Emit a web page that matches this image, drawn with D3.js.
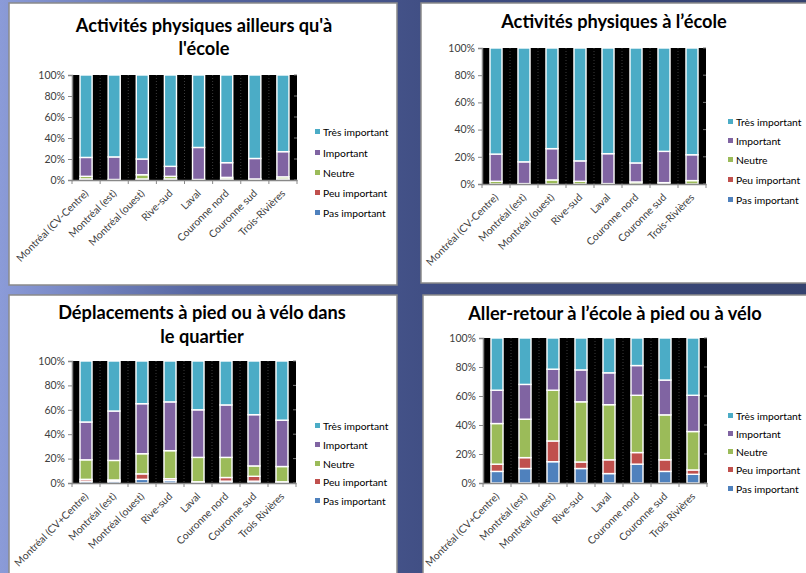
<!DOCTYPE html>
<html><head><meta charset="utf-8">
<script src="https://cdn.jsdelivr.net/npm/d3@7"></script>
<style>
html,body{margin:0;padding:0;background:#3d4a7c;}
svg{display:block;}
</style></head>
<body>
<svg id="c" width="806" height="573"></svg>
<script>
// ---------- DATA ----------
const seriesNames = ["Pas important","Peu important","Neutre","Important","Très important"];
const legendOrder = ["Très important","Important","Neutre","Peu important","Pas important"];
const seriesColors = ["#4F81BD","#C0504D","#9BBB59","#8064A2","#4BACC6"];
const yTickValues = [0, 0.2, 0.4, 0.6, 0.8, 1];

const categoriesTop = ["Montréal (CV-Centre)","Montréal (est)","Montréal (ouest)","Rive-sud","Laval","Couronne nord","Couronne sud","Trois-Rivières"];
const categoriesBottom = ["Montréal (CV+Centre)","Montréal (est)","Montréal (ouest)","Rive-sud","Laval","Couronne nord","Couronne sud","Trois Rivières"];

// Activités physiques ailleurs qu'à l'école
const ailleursPas    = [0.5, 0,   0.5, 0.5, 0,   0.5, 0,   0.5];
const ailleursPeu    = [0.5, 0,   0.5, 0.5, 0,   0.5, 0.5, 0.5];
const ailleursNeutre = [2.5, 0.5, 4,   2.5, 0.5, 1.5, 0.5, 2];
const ailleursImp    = [18,  21.5,15,  9.5, 30.5,14,  19.5,24];
const ailleursTres   = [78.5,78,  80,  87,  69,  83.5,79.5,73];

// Activités physiques à l'école
const ecolePas    = [0,   0,   0,   0,   0,   0,   0,   0];
const ecolePeu    = [0,   0,   0,   0,   0,   0,   0,   0];
const ecoleNeutre = [2,   0.3, 3,   2,   0.3, 1.5, 1,   2.5];
const ecoleImp    = [20,  16,  23,  15,  22,  14,  23,  19];
const ecoleTres   = [78,  83.7,74,  83,  77.7,84.5,76,  78.5];

// Déplacements à pied ou à vélo dans le quartier
const deplPas    = [1.5, 1.5, 3,   2,   0.5, 1.5, 1.5, 0.5];
const deplPeu    = [1.5, 1,   4.5, 1.5, 0.5, 3,   4,   0.5];
const deplNeutre = [16,  16,  16.5,23,  20,  16.5,8.5, 12.5];
const deplImp    = [31,  40.5,41,  40,  39,  43,  42,  38];
const deplTres   = [50,  41,  35,  33.5,40,  36,  44,  48.5];

// Aller-retour à l'école à pied ou à vélo
const allerPas    = [8,   10,  14.7,10,  6.5, 13,  8,   6];
const allerPeu    = [5,   7.5, 14.3,4.5, 9.5, 8,   8,   3];
const allerNeutre = [28,  26.5,35,  41.5,38,  39.5,31,  26.5];
const allerImp    = [23,  24,  14.5,22,  22,  20.5,24,  25];
const allerTres   = [36,  32,  21.5,22,  24,  19,  29,  39.5];

// ---------- LAYOUT ----------
const panels = [
  {title:["Activités physiques ailleurs qu'à","l'école"], titleX:204, titleY:[32,55],
   rect:[9,3,388,282], plot:[72,75,297,180], legX:315, legY:[132,153,173,193,213],
   cats:categoriesTop, series:[ailleursPas,ailleursPeu,ailleursNeutre,ailleursImp,ailleursTres]},
  {title:["Activités physiques à l’école"], titleX:614, titleY:[28],
   rect:[421,3,390,280], plot:[482,48,706,184], legX:728, legY:[122,141,160,180,200],
   cats:categoriesTop, series:[ecolePas,ecolePeu,ecoleNeutre,ecoleImp,ecoleTres]},
  {title:["Déplacements à pied ou à vélo dans","le quartier"], titleX:202, titleY:[319,343],
   rect:[9,295,388,290], plot:[72,361,296,483], legX:315, legY:[426,445,464,482,501],
   cats:categoriesBottom, series:[deplPas,deplPeu,deplNeutre,deplImp,deplTres]},
  {title:["Aller-retour à l’école à pied ou à vélo"], titleX:615, titleY:[320],
   rect:[423,295,390,290], plot:[483,338,707,483], legX:728, legY:[416,434,452,470,489],
   cats:categoriesBottom, series:[allerPas,allerPeu,allerNeutre,allerImp,allerTres]}
];

const svg = d3.select("#c");
const defs = svg.append("defs");
const g = defs.append("linearGradient").attr("id","bg").attr("x1","0").attr("y1","0").attr("x2","1").attr("y2","0");
g.append("stop").attr("offset","0").attr("stop-color","#8b9bd8");
g.append("stop").attr("offset","0.25").attr("stop-color","#5565a0");
g.append("stop").attr("offset","0.55").attr("stop-color","#3f4d82");
g.append("stop").attr("offset","1").attr("stop-color","#35426f");
svg.append("rect").attr("width",806).attr("height",573).attr("fill","url(#bg)");

const FONT = "Lato, 'Open Sans', sans-serif";

panels.forEach(p => {
  const [rx,ry,rw,rh] = p.rect;
  svg.append("rect").attr("x",rx).attr("y",ry).attr("width",rw).attr("height",rh)
     .attr("fill","#fff").attr("stroke","#8a8a8a").attr("stroke-width",1.5);

  const [L,T,R,B] = p.plot;
  const data = p.cats.map((c,i) => {
    const o = {cat:c};
    seriesNames.forEach((s,k) => o[s] = p.series[k][i]);
    return o;
  });
  const stacked = d3.stack().keys(seriesNames).offset(d3.stackOffsetExpand)(data);
  const x = d3.scaleBand().domain(p.cats).range([L,R]).paddingInner(0.57).paddingOuter(0.285);
  const y = d3.scaleLinear().domain([0,1]).range([B,T]);
  const color = d3.scaleOrdinal().domain(seriesNames).range(seriesColors);

  // black plot area
  svg.append("rect").attr("x",L).attr("y",T).attr("width",R-L).attr("height",B-T).attr("fill","#000");
  // dotted vertical lines at band boundaries
  const step = x.step();
  const bounds = d3.range(p.cats.length+1).map(i => L + i*step);
  svg.append("g").selectAll("line").data(bounds.slice(1,-1)).join("line")
    .attr("x1",d=>d).attr("x2",d=>d).attr("y1",T).attr("y2",B)
    .attr("stroke","#3a3a3a").attr("stroke-dasharray","1,2");
  // right edge small ticks
  svg.append("g").selectAll("line").data(yTickValues).join("line")
    .attr("x1",R-3).attr("x2",R).attr("y1",d=>y(d)).attr("y2",d=>y(d)).attr("stroke","#777");

  // bars
  svg.append("g").selectAll("g").data(stacked).join("g")
    .attr("fill",d=>color(d.key))
    .selectAll("rect").data(d=>d.map(v=>({v,cat:v.data.cat}))).join("rect")
    .attr("x",d=>x(d.cat)).attr("width",x.bandwidth())
    .attr("y",d=>y(d.v[1])).attr("height",d=>Math.max(0,y(d.v[0])-y(d.v[1])))
    .attr("stroke","#fff").attr("stroke-width",1.4);

  // y axis
  const ya = svg.append("g").attr("transform",`translate(${L},0)`)
    .call(d3.axisLeft(y).tickValues(yTickValues).tickFormat(d3.format(".0%")).tickSize(4).tickPadding(3));
  ya.select(".domain").attr("stroke","#888").attr("stroke-width",1.5);
  ya.selectAll(".tick line").attr("stroke","#888");
  ya.selectAll("text").attr("font-family",FONT).attr("font-size",10.5).attr("fill","#404040");

  // x axis
  const xa = svg.append("g").attr("transform",`translate(0,${B})`)
    .call(d3.axisBottom(x).tickSize(0).tickPadding(0));
  xa.select(".domain").attr("stroke","#888").attr("stroke-width",1.5);
  xa.selectAll(".tick text")
    .attr("font-family",FONT).attr("font-size",10.3).attr("fill","#404040")
    .attr("text-anchor","end").attr("dy",0)
    .attr("transform","translate(3,14) rotate(-45)");
  svg.append("g").selectAll("line").data(bounds).join("line")
    .attr("x1",d=>d).attr("x2",d=>d).attr("y1",B).attr("y2",B+4).attr("stroke","#888");

  // title
  p.title.forEach((t,i) => {
    svg.append("text").attr("x",p.titleX).attr("y",p.titleY[i]).attr("text-anchor","middle")
      .attr("font-family",FONT).attr("font-weight","bold").attr("font-size",18.2).attr("fill","#000").text(t);
  });

  // legend
  legendOrder.forEach((name,i) => {
    svg.append("rect").attr("x",p.legX).attr("y",p.legY[i]-3).attr("width",5).attr("height",5)
      .attr("fill",color(name));
    svg.append("text").attr("x",p.legX+8).attr("y",p.legY[i]+3.5)
      .attr("font-family",FONT).attr("font-size",10.3).attr("fill","#000").text(name);
  });
});
</script>
</body></html>
